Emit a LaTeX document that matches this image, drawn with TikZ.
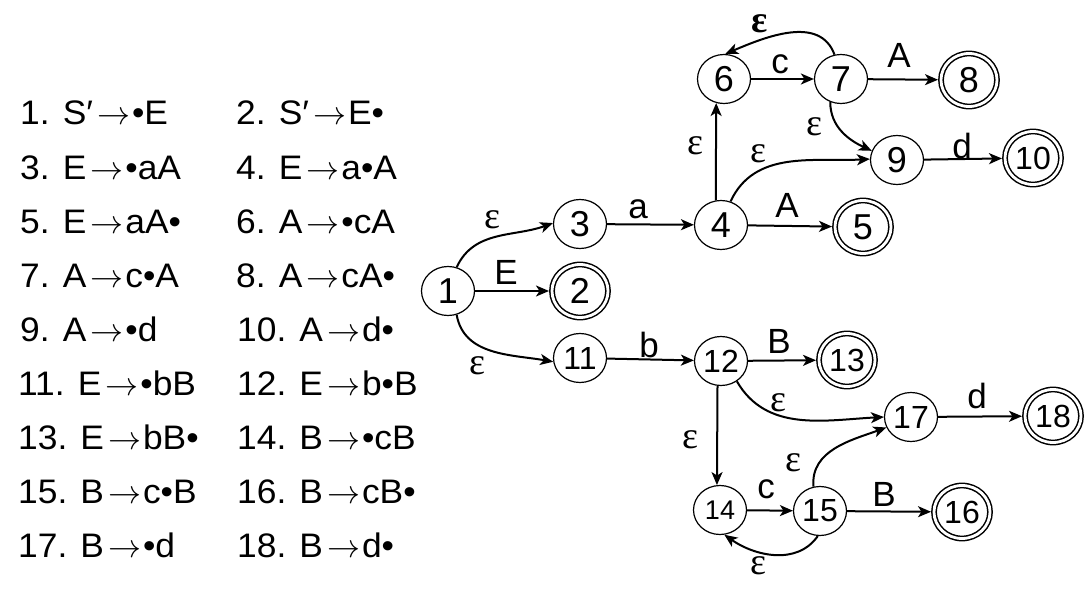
\documentclass[tikz,border=0pt]{standalone}
\usepackage{fontspec}
\setmainfont{Liberation Sans}
\newfontfamily\lsans{Liberation Sans}
\newfontfamily\wsans[FakeStretch=1.04]{Liberation Sans}
\newfontfamily\epsfont{Liberation Serif}
\usetikzlibrary{arrows.meta,shapes.geometric}
\newcommand{\myto}{\hspace{4pt}\scalebox{3.3}{\fontsize{10}{12}\selectfont$\rightarrow$}\hspace{2pt}}
\begin{document}
\begin{tikzpicture}[x=1pt,y=-1pt,
  st/.style={ellipse, draw, line width=1.2pt, minimum width=53pt, minimum height=49pt, inner sep=0pt, font=\lsans\fontsize{36}{36}\selectfont},
  two/.style={font=\lsans\fontsize{32}{32}\selectfont},
  acc/.style={st, double, line width=1.5pt, double distance=2.8pt, minimum width=56pt, minimum height=53pt, outer sep=3pt},
  arr/.style={-{Stealth[length=13pt,width=11pt,inset=3.5pt]}, line width=2pt},
  lbl/.style={inner sep=0pt, font=\lsans\fontsize{35}{35}\selectfont},
  el/.style={inner sep=0pt, font=\epsfont\fontsize{38}{38}\selectfont},
  elb/.style={el, font=\epsfont\bfseries\fontsize{38}{38}\selectfont},
  item/.style={anchor=base west, inner sep=0pt, font=\wsans\fontsize{34}{40}\selectfont}]
\useasboundingbox (0,0) rectangle (1090,615);
% item list
\node[item] (t1)  at (20,125)   {1. S′\myto•E};
\node[item] (t3)  at (20,179.1) {3. E\myto•aA};
\node[item] (t5)  at (20,233.2) {5. E\myto aA•};
\node[item] (t7)  at (20,287.3) {7. A\myto c•A};
\node[item] (t9)  at (20,341.4) {9. A\myto•d};
\node[item] (t11) at (18,395.5) {11. E\myto•bB};
\node[item] (t13) at (18,449.6) {13. E\myto bB•};
\node[item] (t15) at (18,503.7) {15. B\myto c•B};
\node[item] (t17) at (18,557.8) {17. B\myto•d};
\node[item] (t2)  at (236,125)   {2. S′\myto E•};
\node[item] (t4)  at (236,179.1) {4. E\myto a•A};
\node[item] (t6)  at (236,233.2) {6. A\myto•cA};
\node[item] (t8)  at (236,287.3) {8. A\myto cA•};
\node[item] (t10) at (237,341.4) {10. A\myto d•};
\node[item] (t12) at (237,395.5) {12. E\myto b•B};
\node[item] (t14) at (237,449.6) {14. B\myto•cB};
\node[item] (t16) at (237,503.7) {16. B\myto cB•};
\node[item] (t18) at (237,557.8) {18. B\myto d•};
% states
\node[st]  (n1)  at (448,291) {1};
\node[acc] (n2)  at (580,291) {2};
\node[st]  (n3)  at (580,224) {3};
\node[st]  (n4)  at (721,225) {4};
\node[acc] (n5)  at (863,227) {5};
\node[st]  (n6)  at (724,79)  {6};
\node[st]  (n7)  at (841,79)  {7};
\node[acc] (n8)  at (969,80)  {8};
\node[st]  (n9)  at (897,160) {9};
\node[acc, two] (n10) at (1033,158) {10};
\node[st, two]  (n11) at (580,358) {11};
\node[st, two]  (n12) at (721,361) {12};
\node[acc, two] (n13) at (847,360) {13};
\node[st, font=\lsans\fontsize{27}{27}\selectfont] (n14) at (720,510) {14};
\node[st, two]  (n15) at (820,511) {15};
\node[acc, two] (n16) at (962,512) {16};
\node[st, two]  (n17) at (911,417) {17};
\node[acc, two] (n18) at (1053,416) {18};
% transitions
\draw[arr] (n1.70) to[out=65,in=200] (n3.178);
\draw[arr] (n1) -- (n2);
\draw[arr] (n1.-70) to[out=-80,in=170] (n11.188);
\draw[arr] (n3) -- (n4);
\draw[arr] (n4) -- (n5);
\draw[arr] (n4.102) -- (n6.252);
\draw[arr] (n4.68) to[out=65,in=183] (n9.178);
\draw[arr] (n6) -- (n7);
\draw[arr] (n7) -- (n8);
\draw[arr] (n7.105) to[out=110,in=23] (n6.87);
\draw[arr] (n7.245) to[out=-90,in=155] (n9.160);
\draw[arr] (n9) -- (n10);
\draw[arr] (n11) -- (n12);
\draw[arr] (n12) -- (n13);
\draw[arr] (n12.-52) to[out=-60,in=183] (n17.180);
\draw[arr] (n12.262) -- (n14.97);
\draw[arr] (n17) -- (n18);
\draw[arr] (n14) -- (n15);
\draw[arr] (n15) -- (n16);
\draw[arr] (n15.105) to[out=95,in=200] (n17.203);
\draw[arr] (n15.-95) to[out=-125,in=-35] (n14.-80);
% transition labels
\node[el]  (l13)   at (492,220) {ε};
\node[lbl] (l12)   at (506,272) {E};
\node[el]  (l111)  at (477,366) {ε};
\node[lbl] (l34)   at (638,209) {a};
\node[lbl] (l45)   at (787,205) {A};
\node[el]  (l46)   at (695,146) {ε};
\node[el]  (l49)   at (758,154) {ε};
\node[lbl] (l67)   at (780,64)  {c};
\node[lbl] (l78)   at (899,55)  {A};
\node[elb] (l76)   at (760,24)  {ε};
\node[el]  (l79)   at (814,127) {ε};
\node[lbl] (l910)  at (962,146) {d};
\node[lbl] (l1112) at (649,345) {b};
\node[lbl] (l1213) at (779,341) {B};
\node[el]  (l1217) at (778,403) {ε};
\node[el]  (l1214) at (690,440) {ε};
\node[lbl] (l1718) at (977,396) {d};
\node[lbl] (l1415) at (766,489) {c};
\node[lbl] (l1516) at (884,494) {B};
\node[el]  (l1517) at (793,463) {ε};
\node[el]  (l1514) at (758,566) {ε};
\end{tikzpicture}
\end{document}
